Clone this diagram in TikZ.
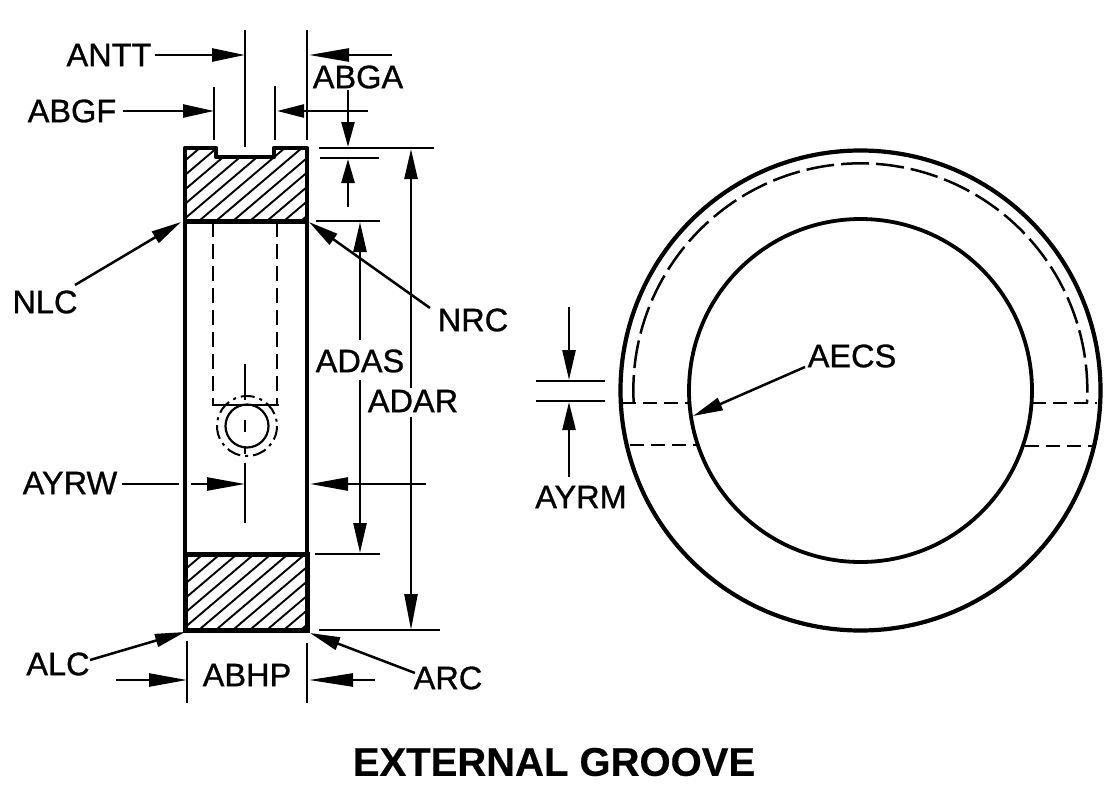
\documentclass[tikz,border=0pt]{standalone}
\usepackage{fontspec}
\setmainfont{Liberation Sans}
\newfontfamily\labfont[FakeBold=0.9]{Liberation Sans}
\newfontfamily\titlefont[FakeBold=0.4]{Liberation Sans Bold}
\usetikzlibrary{arrows.meta}
\tikzset{
  x=1pt,y=-1pt,
  dim/.style={line width=2.5pt,line cap=butt},
  arr/.style={dim,-{Triangle[length=#1pt,width=13pt]}},
  arr/.default=30,
  hid/.style={line width=2.6pt,dash pattern=on 15pt off 7pt},
  outline/.style={line width=4.2pt,line join=round},
  hatch/.style={line width=1.9pt},
  lab/.style={inner sep=0pt,font=\labfont\fontsize{32.5}{32.5}\selectfont},
  heavy/.style={line width=5pt},
}
\begin{document}
\begin{tikzpicture}
\useasboundingbox (0,0) rectangle (1119,798);
\fill[white] (0,0) rectangle (1119,798);
% hatching
\begin{scope}
\clip (185,148) -- (216,148) -- (216,157) -- (274,157) -- (274,148) -- (307,148) -- (307,221) -- (185,221) -- cycle;
\foreach \k in {0,17,...,340}{\draw[hatch] (-30+\k,300) -- (270+\k,45);}
\end{scope}
\begin{scope}
\clip (185,554) rectangle (307,631);
\foreach \k in {0,17,...,340}{\draw[hatch] (-30+\k,680) -- (270+\k,425);}
\end{scope}
% part outline, left view
\draw[outline] (185,221) -- (185,148) -- (216,148) -- (216,157) -- (274,157) -- (274,148) -- (307,148) -- (307,221);
\draw[heavy] (183,221) -- (309,221);
\draw[outline] (185,221) -- (185,554);
\draw[outline] (307,221) -- (307,554);
\draw[heavy] (185,554) -- (185,630) -- (307,630) -- (307,554) -- cycle;
% hidden slot and hole
\draw[hid] (213,222) -- (213,405);
\draw[hid] (277,222) -- (277,405);
\draw[line width=2.6pt] (212,405) -- (279,405);
\node[draw,circle,line width=2.2pt,minimum size=43pt,inner sep=0pt] (hole) at (247,426) {};
\draw[line width=2pt,dash pattern=on 14pt off 5pt on 3pt off 5pt] (277,426) arc[start angle=0,end angle=360,radius=30];
% extension lines
\coordinate (e1t) at (245,30); \coordinate (e1b) at (245,147);
\coordinate (e2t) at (307,30); \coordinate (e2b) at (307,140);
\coordinate (e3t) at (214,87); \coordinate (e3b) at (214,140);
\coordinate (e4t) at (275,86); \coordinate (e4b) at (275,140);
\draw[dim] (e1t)--(e1b) (e2t)--(e2b) (e3t)--(e3b) (e4t)--(e4b);
\draw[dim] (319,148)--(434,148) (320,158)--(379,158) (316,221)--(380,221) (315,554)--(380,554) (319,630)--(440,630);
% centre line
\draw[dim] (245,364)--(245,400) (245,420)--(245,432) (245,446)--(245,454) (245,463)--(245,523);
% labels
\node[lab] (ANTT) at (109,55) {ANTT};
\node[lab] (ABGA) at (358,77) {ABGA};
\node[lab] (ABGF) at (72,111) {ABGF};
\node[lab] (NLC) at (45,302) {NLC};
\node[lab] (NRC) at (473,320) {NRC};
\node[lab] (ADAS) at (360,361) {ADAS};
\node[lab] (ADAR) at (413,401) {ADAR};
\node[lab] (AECS) at (852,356) {AECS};
\node[lab] (AYRW) at (70,483) {AYRW};
\node[lab] (AYRM) at (581,497) {AYRM};
\node[lab] (ALC) at (58,664) {ALC};
\node[lab] (ABHP) at (247,675) {ABHP};
\node[lab] (ARC) at (448,678) {ARC};
\node[inner sep=0pt,font=\titlefont\fontsize{40}{40}\selectfont] (title) at (554,762) {EXTERNAL GROOVE};
% top dimensions
\draw[arr=33] (155,55) -- (245,55);
\draw[arr=40] (392,55) -- (309,55);
\draw[arr=31] (123,111) -- (214,111);
\draw[arr=27] (368,111) -- (277,111);
\draw[arr=25] (348,90) -- (348,147);
\draw[arr=24] (348,207) -- (348,159);
% vertical dimensions
\draw[arr=30] (360,340) -- (360,222);
\draw[arr=30] (360,380) -- (360,553);
\draw[arr=30] (411,388) -- (411,149);
\draw[arr=36] (411,417) -- (411,630);
% AYRW
\draw[dim] (122,484) -- (179,484);
\draw[arr=38] (191,484) -- (245,484);
\draw[arr=38] (426,484) -- (310,484);
% ABHP
\draw[dim] (187,641) -- (187,703);
\draw[dim] (307,643) -- (307,703);
\draw[arr=38] (116,680) -- (187,680);
\draw[arr=44] (375,680) -- (309,680);
% leaders
\coordinate (nlct) at (181,222); \coordinate (nlcs) at (75,285);
\coordinate (nrct) at (309,222); \coordinate (nrcs) at (430,308);
\coordinate (alct) at (185,632); \coordinate (alcs) at (90,660);
\coordinate (arct) at (310,633); \coordinate (arcs) at (415,673);
\coordinate (aecst) at (693,416); \coordinate (aecss) at (805,367);
\draw[arr=30] (nlcs) -- (nlct);
\draw[arr=30] (nrcs) -- (nrct);
\draw[arr=30] (alcs) -- (alct);
\draw[arr=30] (arcs) -- (arct);
% right view
\draw[line width=4.2pt] (860.5,390.5) circle[radius=240];
\draw[line width=3.8pt] (860.5,390.5) circle[radius=171.5];
\draw[line width=2.5pt,dash pattern=on 28pt off 7pt] (633.7,403) arc[start angle=176.8,end angle=363.2,radius=227];
\draw[hid,dash pattern=on 14pt off 7pt] (622,403) -- (690,403);
\draw[hid,dash pattern=on 14pt off 7pt] (630,445) -- (697,445);
\draw[hid,dash pattern=on 14pt off 7pt] (1032,403) -- (1097,403);
\draw[hid,dash pattern=on 14pt off 7pt] (1025,446) -- (1092,446);
\draw[arr=30] (aecss) -- (aecst);
% AYRM
\draw[dim] (536,381) -- (605,381);
\draw[dim] (536,401) -- (605,401);
\draw[arr=30] (569,307) -- (569,380);
\draw[arr=28] (569,477) -- (569,402);
\end{tikzpicture}
\end{document}
